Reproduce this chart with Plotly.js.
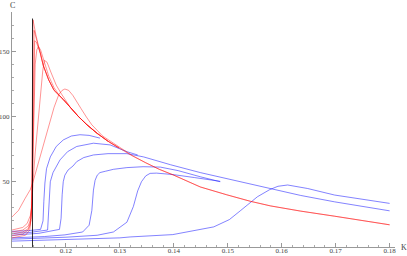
<!DOCTYPE html>
<html>
<head>
<meta charset="utf-8">
<script src="https://cdn.plot.ly/plotly-3.0.1.min.js"></script>
<style>html,body{margin:0;padding:0;background:#fff;}#chart{width:407px;height:256px;}</style>
</head>
<body>
<div id="chart"></div>
<script>
// ---- data ----
const vlineK = [0.1138, 0.1138];
const vlineC = [0, 175];

// red family
const r1K = [0.11, 0.112, 0.113, 0.1134, 0.1136, 0.11375, 0.1139, 0.1144, 0.1148, 0.1153, 0.1158, 0.1168, 0.1178, 0.1188, 0.1195, 0.1208, 0.1223, 0.1239, 0.1258, 0.1278, 0.1298, 0.1322, 0.1348, 0.1373, 0.14, 0.1423, 0.1449, 0.1498, 0.1542, 0.1579, 0.1635, 0.1698, 0.1748, 0.18];
const r1C = [8.5, 10, 13, 17, 30, 90, 174, 163, 155, 147, 139, 128, 120, 116, 113, 107, 100, 93.6, 87, 81, 76, 70, 64.5, 59.5, 55, 50.5, 46, 40, 35, 31.5, 27.5, 23.6, 20.2, 17];

const r2K = [0.11, 0.112, 0.113, 0.1135, 0.1137, 0.1139, 0.1141, 0.1143, 0.1146, 0.1149, 0.1153, 0.1158, 0.1168, 0.1178, 0.1188, 0.1195, 0.1208, 0.1223, 0.1239, 0.1258, 0.1278, 0.1298];
const r2C = [11.5, 13, 16, 22, 35, 70, 115, 140, 151, 153.5, 151, 144, 131, 122, 116, 113, 107, 100, 93.6, 87, 81, 76];

const r3K = [0.11, 0.112, 0.1128, 0.1134, 0.1137, 0.1139, 0.1143, 0.1148, 0.1153, 0.1157, 0.116, 0.1165, 0.1172, 0.1182, 0.1192, 0.1208, 0.1223, 0.1239, 0.1258, 0.1278, 0.1298];
const r3C = [13, 15, 18, 24, 33, 50, 72, 96, 118, 135, 143, 141.5, 134, 124, 117, 107, 100, 93.6, 87, 81, 76];

const r4K = [0.11, 0.1112, 0.1124, 0.1134, 0.1139, 0.1148, 0.1158, 0.1168, 0.1178, 0.1187, 0.1193, 0.1198, 0.1205, 0.1213, 0.1218, 0.1228, 0.1238, 0.1248, 0.1268, 0.1298, 0.1322, 0.1348, 0.1373, 0.14, 0.1423, 0.1449, 0.1498, 0.1542, 0.1579, 0.1635, 0.1698, 0.1748, 0.18];
const r4C = [23, 28, 37, 44, 50, 63, 78, 93, 107, 117, 120, 121, 120, 116, 113, 106, 99.5, 93.6, 85, 76.5, 70.3, 64.5, 59.5, 55, 50.5, 46, 40, 35, 31.5, 27.5, 23.6, 20.2, 17];

const r5K = [0.11, 0.112, 0.113, 0.1135, 0.1137, 0.11385, 0.114, 0.1141, 0.1144, 0.1148, 0.1153, 0.1158, 0.1168, 0.1178, 0.1188, 0.1195, 0.1208, 0.1223, 0.1239, 0.1258, 0.1278];
const r5C = [10, 11.5, 14, 20, 35, 80, 150, 166, 161, 155.5, 148, 139, 128, 120, 116, 113, 107, 100, 93.6, 87, 81];

const r6K = [0.11, 0.1125, 0.1133, 0.1136, 0.11385, 0.114, 0.1142, 0.1145, 0.1149, 0.1153, 0.1158, 0.1168, 0.1178, 0.1188, 0.1195, 0.1208, 0.1223, 0.1239, 0.1258];
const r6C = [7, 9, 13, 25, 60, 120, 158, 157, 153, 148, 139, 128, 120, 116, 113, 107, 100, 93.6, 87];

// blue family
const b1K = [0.11, 0.113, 0.1153, 0.11575, 0.1159, 0.1161, 0.1164, 0.1171, 0.1182, 0.1189, 0.1195, 0.121, 0.1226, 0.1243, 0.1263];
const b1C = [12, 12.5, 13.5, 20, 35, 49, 60, 69, 77, 80, 82, 85, 86, 85.5, 83.4];

const b2K = [0.11, 0.113, 0.1166, 0.1168, 0.11695, 0.1171, 0.1176, 0.1183, 0.1189, 0.1203, 0.122, 0.1251, 0.1282, 0.1313, 0.1333];
const b2C = [10.5, 11, 13, 25, 40, 50, 57, 62, 66.7, 73, 77, 79.5, 78.2, 73, 70.5];

const b3K = [0.11, 0.115, 0.1188, 0.1191, 0.1193, 0.1195, 0.1198, 0.1204, 0.1213, 0.122, 0.1233, 0.1251, 0.1278, 0.1313, 0.1344, 0.1394, 0.1449, 0.1519, 0.1579, 0.1635, 0.1698, 0.18];
const b3C = [9, 10.5, 13.5, 22, 40, 50, 55, 59, 62, 65.4, 68.5, 70.5, 71.5, 71.5, 69, 63, 57, 50.5, 45, 39.5, 34.6, 27.7];

const b4K = [0.11, 0.116, 0.1198, 0.1231, 0.1243, 0.1248, 0.1251, 0.1254, 0.1258, 0.1263, 0.1273, 0.1288, 0.1313, 0.1343, 0.1375, 0.1408, 0.1449, 0.1486];
const b4C = [7, 8, 9.3, 11.5, 16.7, 28, 43.6, 51, 55, 57, 58, 59.5, 60.8, 61.5, 61.2, 58.5, 53.8, 50];

const b5K = [0.11, 0.12, 0.1258, 0.1288, 0.1313, 0.1325, 0.1333, 0.134, 0.1348, 0.1356, 0.1368, 0.1398, 0.1438, 0.1486];
const b5C = [6, 7.5, 9, 11.5, 19, 31, 43, 50, 54.5, 56.4, 56.6, 55.5, 53.2, 50.3];

const b6K = [0.11, 0.12, 0.13, 0.1319, 0.1398, 0.1474, 0.1503, 0.1524, 0.1543, 0.1555, 0.1578, 0.1593, 0.1611, 0.1628, 0.1648, 0.1698, 0.1748, 0.18];
const b6C = [4.5, 5.5, 7, 7.7, 9.5, 15.4, 21, 28, 34, 38.5, 44, 46.5, 47.5, 46.5, 44.8, 39.8, 36.5, 33.4];

const xTickVals = [0.12, 0.13, 0.14, 0.15, 0.16, 0.17, 0.18];
const xTickText = ['0.12', '0.13', '0.14', '0.15', '0.16', '0.17', '0.18'];
const yTickVals = [50, 100, 150];
const yTickText = ['50', '100', '150'];
const xAxisLabel = 'K';
const yAxisLabel = 'C';

// ---- build ----
const RED = 'rgba(255,0,0,0.42)';
const BLUE = 'rgba(30,30,255,0.55)';
const reds = [[r1K, r1C], [r2K, r2C], [r3K, r3C], [r4K, r4C], [r5K, r5C], [r6K, r6C]];
const blues = [[b1K, b1C], [b2K, b2C], [b3K, b3C], [b4K, b4C], [b5K, b5C], [b6K, b6C]];
const traces = [];
blues.forEach(([k, c]) => traces.push({x: k, y: c, mode: 'lines', line: {color: BLUE, width: 1}, hoverinfo: 'skip'}));
reds.forEach(([k, c]) => traces.push({x: k, y: c, mode: 'lines', line: {color: RED, width: 1}, hoverinfo: 'skip'}));
traces.push({x: vlineK, y: vlineC, mode: 'lines', line: {color: 'rgba(0,0,0,0.8)', width: 1}, hoverinfo: 'skip'});

const tickFont = {family: 'Liberation Serif, serif', size: 7, color: '#444'};
const layout = {
  width: 407, height: 256,
  margin: {l: 12, r: 12, t: 12, b: 9, pad: 0},
  paper_bgcolor: '#fff', plot_bgcolor: '#fff',
  showlegend: false,
  xaxis: {
    range: [0.11, 0.181], showgrid: false, zeroline: false,
    showline: true, linecolor: '#999', linewidth: 1,
    tickmode: 'array', tickvals: xTickVals, ticktext: xTickText,
    ticks: 'inside', ticklen: 4, tickcolor: '#999', tickwidth: 1,
    tickfont: tickFont, ticklabelstandoff: -3,
    minor: {tickmode: 'linear', tick0: 0.11, dtick: 0.002, ticks: 'inside', ticklen: 2, tickcolor: '#aaa', showgrid: false}
  },
  yaxis: {
    range: [0, 180], showgrid: false, zeroline: false,
    showline: true, linecolor: '#999', linewidth: 1,
    tickmode: 'array', tickvals: yTickVals, ticktext: yTickText,
    ticks: 'inside', ticklen: 4, tickcolor: '#999', tickwidth: 1,
    tickfont: tickFont,
    minor: {tickmode: 'linear', tick0: 0, dtick: 10, ticks: 'inside', ticklen: 2, tickcolor: '#aaa', showgrid: false}
  },
  annotations: [
    {text: yAxisLabel, xref: 'paper', yref: 'paper', x: 0, y: 1, xanchor: 'center', yanchor: 'bottom', showarrow: false, font: {family: 'Liberation Serif, serif', size: 8, color: '#444'}},
    {text: xAxisLabel, xref: 'paper', yref: 'paper', x: 1, y: 0, xanchor: 'left', yanchor: 'middle', xshift: 4, showarrow: false, font: {family: 'Liberation Serif, serif', size: 8, color: '#444'}}
  ]
};
Plotly.newPlot('chart', traces, layout, {staticPlot: true, displayModeBar: false});
</script>
</body>
</html>
